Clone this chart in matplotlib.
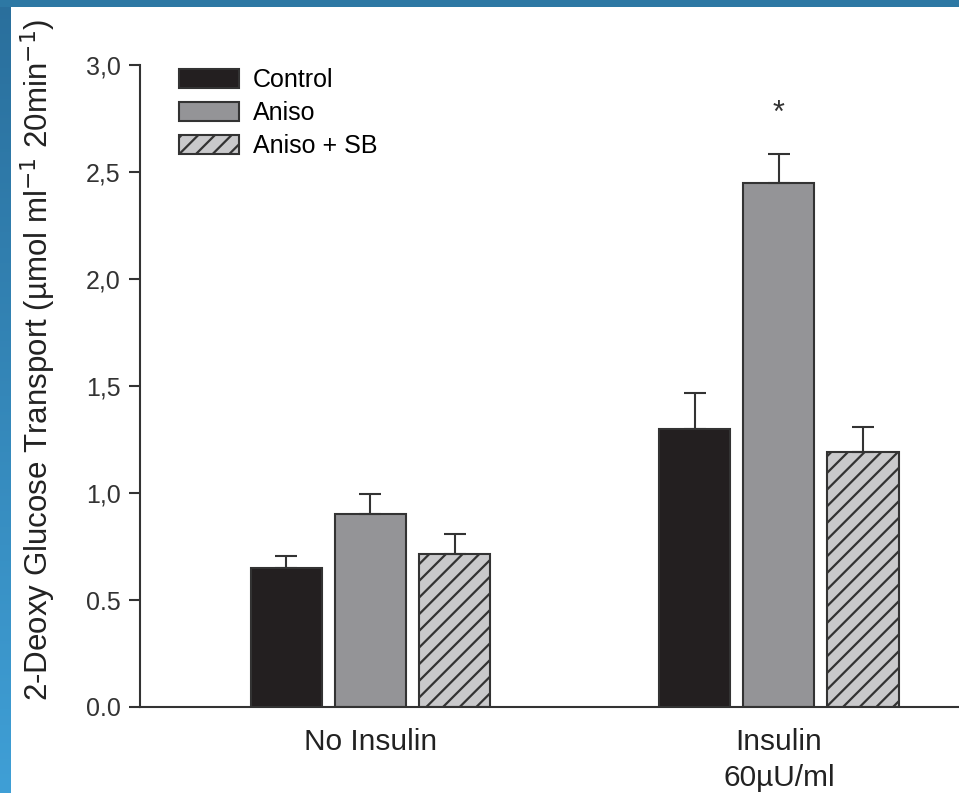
#!/usr/bin/env python

# 2-deoxy glucose transport bars, no insulin vs insulin

import numpy as np
from matplotlib import pyplot as plt
from matplotlib.colors import LinearSegmentedColormap

plt.rcParams['font.family'] = ['Liberation Sans', 'DejaVu Sans']
plt.rcParams['hatch.linewidth'] = 1.6

groups = ['No Insulin', 'Insulin\n60µU/ml']
series = ['Control', 'Aniso', 'Aniso + SB']
control = [0.65, 1.30]
aniso = [0.90, 2.45]
aniso_sb = [0.715, 1.19]
control_err = [0.055, 0.165]
aniso_err = [0.095, 0.135]
aniso_sb_err = [0.093, 0.12]
ytick_vals = [0.0, 0.5, 1.0, 1.5, 2.0, 2.5, 3.0]
ytick_labels = ['0.0', '0.5', '1,0', '1,5', '2,0', '2,5', '3,0']

fig = plt.figure(figsize=(9.59, 7.93), dpi=100)

# blue frame bits on the top and left edge
left_bar = fig.add_axes([0, 0, 11 / 959, 1])
grad = np.linspace(0, 1, 256).reshape(-1, 1)
cmap = LinearSegmentedColormap.from_list('frame', ['#2a6f9c', '#3f9fd6'])
left_bar.imshow(grad, aspect='auto', cmap=cmap, extent=[0, 1, 0, 1], origin='upper')
left_bar.axis('off')
top_bar = fig.add_axes([0, 1 - 7 / 793, 1, 7 / 793])
top_bar.set_facecolor('#2d78a4')
top_bar.set_xticks([])
top_bar.set_yticks([])
for s in top_bar.spines.values():
    s.set_visible(False)

ax = fig.add_axes([140 / 959, 86 / 793, 1 - 140 / 959, (707 - 65) / 793])

x = np.arange(len(groups))
w = 0.174
off = 0.206
edge = '#333333'
errkw = dict(ecolor=edge, elinewidth=1.5, capsize=8, capthick=1.5)

b1 = ax.bar(x - off, control, w, color='#231f20', edgecolor=edge, linewidth=1.5,
            yerr=[np.zeros(2), control_err], error_kw=errkw, label=series[0])
b2 = ax.bar(x, aniso, w, color='#949497', edgecolor=edge, linewidth=1.5,
            yerr=[np.zeros(2), aniso_err], error_kw=errkw, label=series[1])
b3 = ax.bar(x + off, aniso_sb, w, color='#c9c9cb', edgecolor=edge, linewidth=1.5,
            hatch='//', yerr=[np.zeros(2), aniso_sb_err], error_kw=errkw, label=series[2])

ax.text(1, 2.77, '*', ha='center', va='center', fontsize=22, color='#333333')

ax.set_xlim(-0.564, 1.441)
ax.set_ylim(0, 3.0)
ax.set_yticks(ytick_vals)
ax.set_yticklabels(ytick_labels)
ax.set_xticks(x)
ax.set_xticklabels(groups, linespacing=1.38)
ax.tick_params(axis='y', length=8, width=1.5, color=edge, labelsize=18, labelcolor='#333333', pad=6)
ax.tick_params(axis='x', length=0, labelsize=21.5, labelcolor='#222222', pad=15)
for s in ['top', 'right']:
    ax.spines[s].set_visible(False)
for s in ['left', 'bottom']:
    ax.spines[s].set_linewidth(1.5)
    ax.spines[s].set_color(edge)

ax.set_ylabel('2-Deoxy Glucose Transport (µmol ml$^{-1}$ 20min$^{-1}$)',
              fontsize=22.5, color='#222222')
ax.yaxis.set_label_coords(-82 / 819, 0.54)

ax.legend(handles=[b1, b2, b3], loc='upper left', bbox_to_anchor=(0.036, 1.011),
          frameon=False, fontsize=18, handlelength=2.4, handleheight=0.8,
          handletextpad=0.55, labelspacing=0.36, borderaxespad=0)

fig.savefig('out.png', dpi=100)
